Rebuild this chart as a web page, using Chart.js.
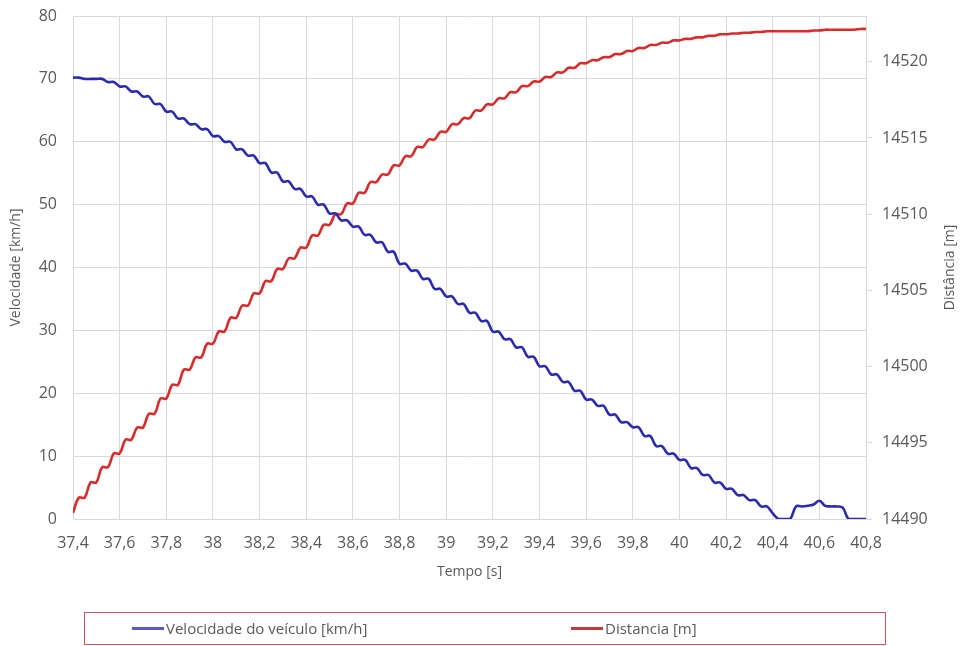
<!DOCTYPE html>
<html>
<head>
<meta charset="utf-8">
<script src="https://cdn.jsdelivr.net/npm/chart.js@4"></script>
<style>
  body { margin: 0; background: #fff; }
  #wrap { position: relative; width: 962px; height: 646px; }
  #legend {
    position: absolute; left: 84px; top: 612px; width: 800px; height: 31px;
    border: 1.5px solid #c65a5a; font-family: 'Open Sans', sans-serif; font-size: 15px; color: #595959;
  }
  .item { position: absolute; top: 5px; display: flex; align-items: center; }
  .swatch { width: 32px; height: 3px; margin-right: 2px; }
</style>
</head>
<body>
<div id="wrap">
  <canvas id="chart" width="962" height="646"></canvas>
  <div id="legend">
    <div class="item" style="left:47px"><span class="swatch" style="background:#5a5ac8"></span>Velocidade do veículo [km/h]</div>
    <div class="item" style="left:486px"><span class="swatch" style="background:#c43a3a"></span>Distancia [m]</div>
  </div>
</div>
<script>
// time samples [s]
const times = [
  37.4, 37.425, 37.45, 37.475, 37.5, 37.525, 37.55, 37.575,
  37.6, 37.625, 37.65, 37.675, 37.7, 37.725, 37.75, 37.775,
  37.8, 37.825, 37.85, 37.875, 37.9, 37.925, 37.95, 37.975,
  38.0, 38.025, 38.05, 38.075, 38.1, 38.125, 38.15, 38.175,
  38.2, 38.225, 38.25, 38.275, 38.3, 38.325, 38.35, 38.375,
  38.4, 38.425, 38.45, 38.475, 38.5, 38.525, 38.55, 38.575,
  38.6, 38.625, 38.65, 38.675, 38.7, 38.725, 38.75, 38.775,
  38.8, 38.825, 38.85, 38.875, 38.9, 38.925, 38.95, 38.975,
  39.0, 39.025, 39.05, 39.075, 39.1, 39.125, 39.15, 39.175,
  39.2, 39.225, 39.25, 39.275, 39.3, 39.325, 39.35, 39.375,
  39.4, 39.425, 39.45, 39.475, 39.5, 39.525, 39.55, 39.575,
  39.6, 39.625, 39.65, 39.675, 39.7, 39.725, 39.75, 39.775,
  39.8, 39.825, 39.85, 39.875, 39.9, 39.925, 39.95, 39.975,
  40.0, 40.025, 40.05, 40.075, 40.1, 40.125, 40.15, 40.175,
  40.2, 40.225, 40.25, 40.275, 40.3, 40.325, 40.35, 40.375,
  40.4, 40.425, 40.45, 40.475, 40.5, 40.525, 40.55, 40.575,
  40.6, 40.625, 40.65, 40.675, 40.7, 40.725, 40.75, 40.775,
  40.8
];

// vehicle speed [km/h]
const speed = [
  70.2, 70.2, 70.0, 70.0, 70.0, 70.0, 69.5, 69.5,
  68.8, 68.8, 68.0, 68.0, 67.2, 67.2, 66.0, 66.0,
  64.8, 64.8, 63.7, 63.7, 62.8, 62.8, 62.0, 62.0,
  60.9, 60.9, 60.0, 60.0, 58.8, 58.8, 57.8, 57.8,
  56.6, 56.6, 55.1, 55.1, 53.7, 53.7, 52.5, 52.5,
  51.3, 51.3, 50.0, 50.0, 48.6, 48.6, 47.5, 47.5,
  46.5, 46.5, 45.2, 45.2, 44.0, 44.0, 42.5, 42.5,
  40.6, 40.6, 39.5, 39.5, 38.2, 38.2, 36.6, 36.6,
  35.4, 35.4, 34.2, 34.2, 32.8, 32.8, 31.5, 31.5,
  29.8, 29.8, 28.6, 28.6, 27.3, 27.3, 25.8, 25.8,
  24.3, 24.3, 23.0, 23.0, 21.8, 21.8, 20.4, 20.4,
  19.0, 19.0, 18.0, 18.0, 16.6, 16.6, 15.4, 15.4,
  14.6, 14.6, 13.2, 13.2, 11.6, 11.6, 10.4, 10.4,
  9.4, 9.4, 8.1, 8.1, 7.0, 7.0, 5.8, 5.8,
  4.8, 4.8, 3.8, 3.8, 3.0, 3.0, 2.0, 2.0,
  0.9, 0.0, 0.0, 0.0, 2.0, 2.0, 2.1, 2.3,
  2.9, 2.1, 2.0, 2.0, 1.8, 0.0, 0.0, 0.0,
  0.0
];

// distance [m]
const distance = [
  14490.4, 14491.4, 14491.4, 14492.4, 14492.4, 14493.4, 14493.4, 14494.3,
  14494.3, 14495.2, 14495.2, 14496.0, 14496.0, 14496.9, 14496.9, 14497.9,
  14497.9, 14498.8, 14498.8, 14499.8, 14499.8, 14500.6, 14500.6, 14501.5,
  14501.5, 14502.3, 14502.3, 14503.2, 14503.2, 14504.0, 14504.0, 14504.8,
  14504.8, 14505.6, 14505.6, 14506.4, 14506.4, 14507.1, 14507.1, 14507.8,
  14507.8, 14508.6, 14508.6, 14509.3, 14509.3, 14510.0, 14510.0, 14510.7,
  14510.7, 14511.4, 14511.4, 14512.1, 14512.1, 14512.6, 14512.6, 14513.2,
  14513.2, 14513.8, 14513.8, 14514.4, 14514.4, 14514.9, 14514.9, 14515.4,
  14515.4, 14515.9, 14515.9, 14516.3, 14516.3, 14516.8, 14516.8, 14517.2,
  14517.2, 14517.6, 14517.6, 14518.0, 14518.0, 14518.4, 14518.4, 14518.7,
  14518.7, 14519.0, 14519.0, 14519.3, 14519.3, 14519.6, 14519.6, 14519.9,
  14519.9, 14520.1, 14520.1, 14520.3, 14520.3, 14520.5, 14520.5, 14520.7,
  14520.7, 14520.9, 14520.9, 14521.1, 14521.1, 14521.25, 14521.25, 14521.4,
  14521.4, 14521.5, 14521.5, 14521.6, 14521.6, 14521.7, 14521.7, 14521.8,
  14521.8, 14521.85, 14521.85, 14521.9, 14521.9, 14521.95, 14521.95, 14522.0,
  14522.0, 14522.0, 14522.0, 14522.0, 14522.0, 14522.0, 14522.0, 14522.05,
  14522.05, 14522.1, 14522.1, 14522.1, 14522.1, 14522.1, 14522.1, 14522.15,
  14522.15
];

Chart.defaults.font.family = "'Open Sans', sans-serif";
Chart.defaults.color = "#595959";

const gridColor = "#d9d9d9";

// right axis title reads bottom-to-top like the left one
const rightTitle = {
  id: "rightTitle",
  afterDraw(chart) {
    const { ctx, chartArea } = chart;
    ctx.save();
    ctx.font = "14px 'Open Sans'";
    ctx.fillStyle = "#595959";
    ctx.textAlign = "center";
    ctx.textBaseline = "middle";
    ctx.translate(950, (chartArea.top + chartArea.bottom) / 2);
    ctx.rotate(-Math.PI / 2);
    ctx.fillText("Distância [m]", 0, 0);
    ctx.restore();
  },
};

// fixed axis box sizes so the plot area lands where the original has it
const fixWidth = (w) => (s) => {
  s.width = w;
  s.paddingTop = 0;
  s.paddingBottom = 0;
};

new Chart(document.getElementById("chart"), {
  type: "line",
  data: {
    datasets: [
      {
        label: "Velocidade do veículo [km/h]",
        data: times.map((t, i) => ({ x: t, y: speed[i] })),
        yAxisID: "y",
        borderColor: "#2b2bb0",
        borderWidth: 2.6,
        pointRadius: 0,
        tension: 0.4,
      },
      {
        label: "Distancia [m]",
        data: times.map((t, i) => ({ x: t, y: distance[i] })),
        yAxisID: "y2",
        borderColor: "#d62c2c",
        borderWidth: 2.6,
        pointRadius: 0,
        tension: 0.4,
      },
    ],
  },
  options: {
    responsive: false,
    animation: false,
    layout: { padding: { left: 0, right: 0, top: 16, bottom: 63 } },
    plugins: { legend: { display: false }, tooltip: { enabled: false } },
    scales: {
      x: {
        type: "linear",
        min: 37.4,
        max: 40.8,
        ticks: {
          stepSize: 0.2,
          padding: 15,
          maxRotation: 0,
          autoSkip: false,
          font: { size: 16 },
          callback: (v) => String(Math.round(v * 10) / 10).replace(".", ","),
        },
        grid: { color: gridColor, drawTicks: false },
        border: { color: gridColor },
        title: { display: true, text: "Tempo [s]", font: { size: 14 }, padding: { top: 4, bottom: 3 } },
        afterFit: (s) => { s.height = 64; },
      },
      y: {
        position: "left",
        min: 0,
        max: 80,
        ticks: { stepSize: 10, padding: 16, font: { size: 16 } },
        grid: { color: gridColor, drawTicks: false },
        border: { display: false },
        title: { display: true, text: "Velocidade [km/h]", font: { size: 14 }, padding: { top: 8, bottom: 0 } },
        afterFit: fixWidth(73),
      },
      y2: {
        position: "right",
        min: 14490,
        max: 14523,
        ticks: { stepSize: 5, includeBounds: false, padding: 10, font: { size: 16 }, callback: (v) => String(v) },
        grid: { drawOnChartArea: false, tickLength: 6, color: gridColor },
        border: { color: gridColor },
        afterFit: fixWidth(96),
      },
    },
  },
  plugins: [rightTitle],
});
</script>
</body>
</html>
